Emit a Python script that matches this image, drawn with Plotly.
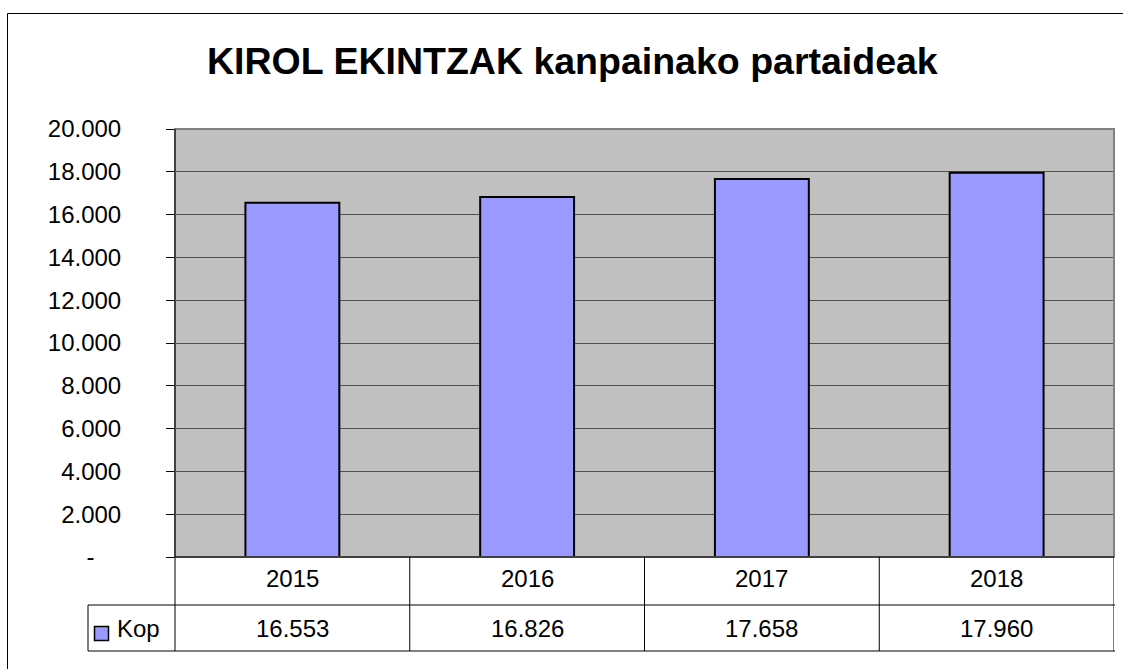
import plotly.graph_objects as go

years = ["2015", "2016", "2017", "2018"]
kop = [16553, 16826, 17658, 17960]
series_name = "Kop"
title_text = "KIROL EKINTZAK kanpainako partaideak"
y_ticks = [0, 2000, 4000, 6000, 8000, 10000, 12000, 14000, 16000, 18000, 20000]

W, H = 1123, 669
L, R, T, B = 175, 1114, 129, 557  # plot area in pixels


def fmt(v):
    # accounting-style: zero shown as a dash, padded like Excel does
    return "-" + "\u00a0" * 4 if v == 0 else f"{v:,}".replace(",", ".")


def px(x):
    return (x - L) / (R - L)


def py(y):
    return (B - y) / (B - T)


FONT = "Liberation Sans, Arial, sans-serif"
FS = 24

fig = go.Figure()
fig.add_trace(go.Bar(
    x=list(range(len(years))), y=kop, name=series_name, width=0.4,
    marker=dict(color="#9999FF", line=dict(color="black", width=2)),
    showlegend=False,
))

shapes = []
# outer chart border
shapes.append(dict(type="rect", xref="paper", yref="paper", x0=px(7.5), x1=px(1140), y0=py(690), y1=py(13.5),
                   line=dict(color="black", width=1), layer="below"))
# plot frame (gray)
shapes.append(dict(type="rect", xref="paper", yref="paper", x0=0, x1=1, y0=0, y1=1,
                   line=dict(color="#808080", width=2), layer="above"))
# y axis line and bottom axis
shapes.append(dict(type="line", xref="paper", yref="paper", x0=0, x1=0, y0=py(651), y1=1,
                   line=dict(color="black", width=1)))
shapes.append(dict(type="line", xref="paper", yref="paper", x0=0, x1=1, y0=0, y1=0,
                   line=dict(color="black", width=1)))
# table horizontal lines
for yy in (605, 651):
    shapes.append(dict(type="line", xref="paper", yref="paper", x0=px(88), x1=px(1115), y0=py(yy), y1=py(yy),
                       line=dict(color="black", width=1)))
# legend cell left border
shapes.append(dict(type="line", xref="paper", yref="paper", x0=px(88), x1=px(88), y0=py(605), y1=py(651),
                   line=dict(color="black", width=1)))
# column separators at category boundaries
for i in range(len(years)):
    shapes.append(dict(type="line", xref="x", yref="paper", x0=i + 0.5, x1=i + 0.5, y0=py(651), y1=0,
                       line=dict(color="black", width=1)))
# legend key square
shapes.append(dict(type="rect", xref="paper", yref="paper", x0=px(94.5), x1=px(108.5), y0=py(640.5), y1=py(626.5),
                   fillcolor="#9999FF", line=dict(color="black", width=1.5)))

annotations = []
annotations.append(dict(text=f"<b>{title_text}</b>", xref="paper", yref="paper", x=px(572), y=py(61),
                        showarrow=False, font=dict(family=FONT, size=37.5, color="black"),
                        xanchor="center", yanchor="middle"))
for i, (yr, v) in enumerate(zip(years, kop)):
    annotations.append(dict(text=yr, xref="x", yref="paper", x=i, y=py(578), showarrow=False,
                            font=dict(family=FONT, size=FS, color="black"), xanchor="center", yanchor="middle"))
    annotations.append(dict(text=fmt(v), xref="x", yref="paper", x=i, y=py(628), showarrow=False,
                            font=dict(family=FONT, size=FS, color="black"), xanchor="center", yanchor="middle"))
annotations.append(dict(text=series_name, xref="paper", yref="paper", x=px(115), y=py(628), showarrow=False,
                        font=dict(family=FONT, size=FS, color="black"), xanchor="left", yanchor="middle"))

fig.update_layout(
    width=W, height=H,
    margin=dict(l=L, r=W - R, t=T, b=H - B, pad=0),
    paper_bgcolor="white", plot_bgcolor="#C0C0C0",
    bargap=0.6,
    shapes=shapes, annotations=annotations,
    xaxis=dict(range=[-0.5, len(years) - 0.5], showticklabels=False, showgrid=False, zeroline=False,
               ticks="", showline=False, fixedrange=True),
    yaxis=dict(range=[0, 20000], tickvals=y_ticks, ticktext=[fmt(v) for v in y_ticks],
               showgrid=True, gridcolor="#505050", gridwidth=1, zeroline=False,
               ticks="outside", ticklen=8, tickcolor="black", tickwidth=1,
               showline=False, ticklabelstandoff=40,
               tickfont=dict(family=FONT, size=FS, color="black"), fixedrange=True),
    font=dict(family=FONT),
)

fig.write_html("out.html", config={"displayModeBar": False},
               post_script="document.body.style.margin='0';document.body.style.overflow='hidden';")
